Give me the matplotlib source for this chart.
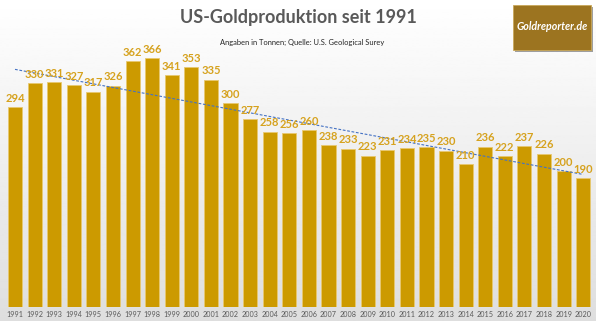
import numpy as np
import matplotlib
matplotlib.use("Agg")
import matplotlib.pyplot as plt
from matplotlib.patches import Rectangle

years = list(range(1991, 2021))
values = [294, 330, 331, 327, 317, 326, 362, 366, 341, 353, 335, 300, 277, 258, 256,
          260, 238, 233, 223, 231, 234, 235, 230, 210, 236, 222, 237, 226, 200, 190]
year_labels = [str(y) for y in years]

title = "US-Goldproduktion seit 1991"
subtitle = "Angaben in Tonnen; Quelle: U.S. Geological Surey"
logo_text = "Goldreporter.de"

W, H = 596, 321
fig = plt.figure(figsize=(W / 100, H / 100), dpi=100)

# background gradient
bg = fig.add_axes([0, 0, 1, 1], zorder=0)
grad = np.linspace(1.0, 0.87, 256).reshape(-1, 1)
bg.imshow(grad, aspect="auto", cmap="gray", vmin=0, vmax=1, extent=[0, 1, 0, 1])
bg.set_axis_off()

# main axes: x from 5 to 593 px, y=0 at 307 px from top, 0.679 px/unit
x0, x1 = 5.2 / W, 593 / W
ybot = (H - 307) / H
ymax = 400
axh = ymax * 0.679 / H
ax = fig.add_axes([x0, ybot, x1 - x0, axh], zorder=1)
ax.patch.set_alpha(0)

x = np.arange(len(years))
ax.bar(x, values, width=0.72, color="#CC9A00", edgecolor="#E8C870", linewidth=0.6, zorder=2)

for xi, v in zip(x, values):
    ax.text(xi, v + 5, str(v), ha="center", va="bottom", fontsize=8, fontweight="bold",
            color="#D6A21E", family=["Lato", "DejaVu Sans"], zorder=4)

# linear trendline
coef = np.polyfit(x, values, 1)
ax.plot(x, np.polyval(coef, x), linestyle=(0, (2.5, 1.5)), color="#4472C4", linewidth=0.8, zorder=3)

ax.set_xlim(-0.5, len(years) - 0.5)
ax.set_ylim(0, ymax)
ax.set_xticks(x)
ax.set_xticklabels(year_labels, fontsize=5.2, color="#595959", family=["Lato", "DejaVu Sans"])
ax.tick_params(axis="x", length=0, pad=3)
ax.set_yticks([])
for s in ax.spines.values():
    s.set_visible(False)

fig.text(298 / W, 1 - 17 / H, title, ha="center", va="center", fontsize=13,
         fontweight="bold", color="#595959", family=["Lato", "DejaVu Sans"], zorder=5)
fig.text(302 / W, 1 - 42 / H, subtitle, ha="center", va="center", fontsize=5.4,
         color="#262626", family=["Lato", "DejaVu Sans"], zorder=5)

# logo box
lx0, ly0, lx1, ly1 = 513, 5, 591, 50
shadow = Rectangle(((lx0 + 2) / W, 1 - (ly1 + 2) / H), (lx1 - lx0) / W, (ly1 - ly0) / H,
                   transform=fig.transFigure, facecolor="#777777", edgecolor="none",
                   alpha=0.7, zorder=5)
box = Rectangle((lx0 / W, 1 - ly1 / H), (lx1 - lx0) / W, (ly1 - ly0) / H,
                transform=fig.transFigure, facecolor="#9C7420", edgecolor="#C9A85A",
                linewidth=0.6, zorder=6)
fig.patches.extend([shadow, box])
fig.text((lx0 + lx1) / 2 / W, 1 - 27 / H, logo_text, ha="center", va="center", fontsize=7.7,
         fontweight="bold", style="italic", color="white", family=["Lato", "DejaVu Sans"], zorder=7)

fig.savefig("out.png", dpi=100)
